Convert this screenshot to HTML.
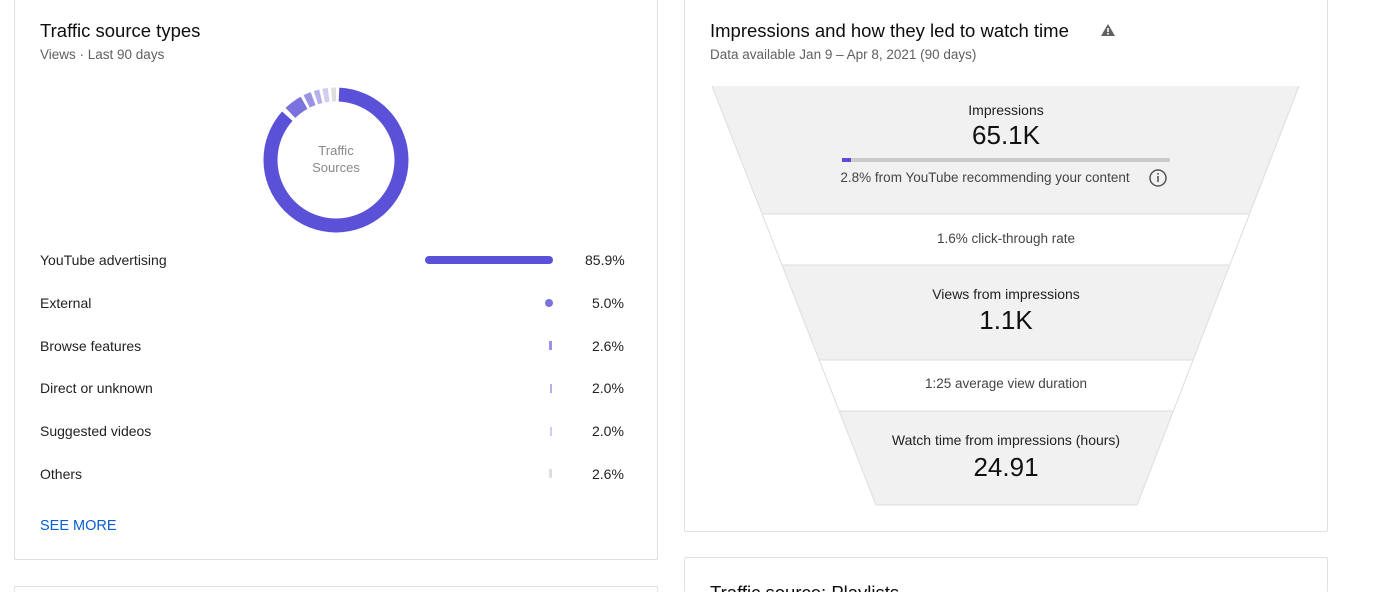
<!DOCTYPE html>
<html><head><style>
html,body{margin:0;width:1400px;height:592px;overflow:hidden}
body{background:#fff;font-family:"Liberation Sans",Arial,sans-serif;position:relative;color:#0d0d0d}
.card{position:absolute;border:1px solid #e0e0e0;border-radius:2px;background:#fff;box-sizing:border-box}
.t{position:absolute;white-space:nowrap}
.h{font-size:18.5px;color:#0d0d0d}
.s{font-size:13.5px;color:#606060}
.row{font-size:14px;color:#222}
.c{text-align:center;transform:translateX(-50%)}
</style></head><body>
<div class="card" style="left:14px;top:-5px;width:644px;height:565px"></div>
<div class="card" style="left:684px;top:-5px;width:644px;height:537px"></div>
<div class="card" style="left:14px;top:586px;width:644px;height:6px;border-bottom:none"></div>
<div class="card" style="left:684px;top:557px;width:644px;height:35px;border-bottom:none;overflow:hidden">
<div class="t h" style="left:25px;top:24px">Traffic source: Playlists</div>
</div>

<div class="t h" style="left:40px;top:20px">Traffic source types</div>
<div class="t s" style="left:40px;top:47px">Views · Last 90 days</div>
<svg style="position:absolute;left:256px;top:80px" width="160" height="160" viewBox="0 0 160 160">
<g transform="rotate(-90 80 80)" fill="none" stroke-width="14">
<circle cx="80" cy="80" r="65.5" stroke="#5b51d8" stroke-dasharray="353.5 500" stroke-dashoffset="-3"/>
<circle cx="80" cy="80" r="65.5" stroke="#7b72dd" stroke-dasharray="17 500" stroke-dashoffset="-361"/>
<circle cx="80" cy="80" r="65.5" stroke="#9a93e3" stroke-dasharray="7 500" stroke-dashoffset="-381"/>
<circle cx="80" cy="80" r="65.5" stroke="#b5b0ea" stroke-dasharray="5 500" stroke-dashoffset="-391"/>
<circle cx="80" cy="80" r="65.5" stroke="#d0cdf1" stroke-dasharray="5 500" stroke-dashoffset="-399"/>
<circle cx="80" cy="80" r="65.5" stroke="#dedede" stroke-dasharray="7 500" stroke-dashoffset="-407"/>
</g>
<text x="80" y="75" font-size="13" fill="#888" text-anchor="middle" font-family="Liberation Sans">Traffic</text>
<text x="80" y="92" font-size="13" fill="#888" text-anchor="middle" font-family="Liberation Sans">Sources</text>
</svg>

<div class="t row" style="left:40px;top:252px">YouTube advertising</div>
<div style="position:absolute;left:425px;top:256px;width:128px;height:8px;border-radius:4px;background:#5b51d8"></div>
<div class="t row" style="left:585px;top:252px">85.9%</div>
<div class="t row" style="left:40px;top:295px">External</div>
<div style="position:absolute;left:545px;top:299px;width:8px;height:8px;border-radius:4px;background:#7b72dd"></div>
<div class="t row" style="left:592px;top:295px">5.0%</div>
<div class="t row" style="left:40px;top:338px">Browse features</div>
<div style="position:absolute;left:549px;top:341px;width:3px;height:9px;background:#9a93e3"></div>
<div class="t row" style="left:592px;top:338px">2.6%</div>
<div class="t row" style="left:40px;top:380px">Direct or unknown</div>
<div style="position:absolute;left:550px;top:384px;width:2px;height:9px;background:#b5b0ea"></div>
<div class="t row" style="left:592px;top:380px">2.0%</div>
<div class="t row" style="left:40px;top:423px">Suggested videos</div>
<div style="position:absolute;left:550px;top:427px;width:2px;height:9px;background:#d0cdf1"></div>
<div class="t row" style="left:592px;top:423px">2.0%</div>
<div class="t row" style="left:40px;top:466px">Others</div>
<div style="position:absolute;left:549px;top:469px;width:3px;height:9px;background:#dedede"></div>
<div class="t row" style="left:592px;top:466px">2.6%</div>
<div class="t" style="left:40px;top:518px;font-size:14.5px;color:#065fd4">SEE MORE</div>

<div class="t h" style="left:710px;top:20px">Impressions and how they led to watch time</div>
<svg style="position:absolute;left:1100px;top:23px" width="16" height="14"><polygon points="8,1 15,13 1,13" fill="#606060"/><rect x="7.2" y="5" width="1.6" height="4" fill="#fff"/><rect x="7.2" y="10" width="1.6" height="1.6" fill="#fff"/></svg>
<div class="t s" style="left:710px;top:47px">Data available Jan 9 – Apr 8, 2021 (90 days)</div>

<svg style="position:absolute;left:0;top:0" width="1400" height="592">
<polygon points="712,86 1299,86 1249.5,214 762,214" fill="#f1f1f1"/>
<polygon points="762,214 1249.5,214 1229.7,265 782,265" fill="#fff"/>
<polygon points="782,265 1229.7,265 1193,360 819,360" fill="#f1f1f1"/>
<polygon points="819,360 1193,360 1173,411 839,411" fill="#fff"/>
<polygon points="839,411 1173,411 1137,505 876,505" fill="#f1f1f1"/>
<polyline points="712,86 876,505" stroke="#ddd" fill="none"/>
<polyline points="1299,86 1137,505" stroke="#ddd" fill="none"/>
<line x1="762" y1="214" x2="1249.5" y2="214" stroke="#ddd"/>
<line x1="782" y1="265" x2="1229.7" y2="265" stroke="#ddd"/>
<line x1="819" y1="360" x2="1193" y2="360" stroke="#ddd"/>
<line x1="839" y1="411" x2="1173" y2="411" stroke="#ddd"/>
<line x1="876" y1="505" x2="1137" y2="505" stroke="#ddd"/>
<rect x="842" y="158" width="328" height="4" fill="#ccc"/>
<rect x="842" y="158" width="9" height="4" fill="#5b51d8"/>
<circle cx="1158" cy="178" r="8" fill="none" stroke="#555" stroke-width="1.5"/>
<rect x="1157.2" y="176" width="1.6" height="6" fill="#555"/><rect x="1157.2" y="173" width="1.6" height="1.6" fill="#555"/>
</svg>
<div class="t c" style="left:1006px;top:102px;font-size:14px;color:#222">Impressions</div>
<div class="t c" style="left:1006px;top:120px;font-size:26px;color:#111">65.1K</div>
<div class="t c" style="left:985px;top:170px;font-size:13.5px;color:#444">2.8% from YouTube recommending your content</div>
<div class="t c" style="left:1006px;top:231px;font-size:13.5px;color:#444">1.6% click-through rate</div>
<div class="t c" style="left:1006px;top:286px;font-size:14px;color:#222">Views from impressions</div>
<div class="t c" style="left:1006px;top:305px;font-size:26px;color:#111">1.1K</div>
<div class="t c" style="left:1006px;top:376px;font-size:13.5px;color:#444">1:25 average view duration</div>
<div class="t c" style="left:1006px;top:432px;font-size:14px;color:#222">Watch time from impressions (hours)</div>
<div class="t c" style="left:1006px;top:452px;font-size:26px;color:#111">24.91</div>
</body></html>
